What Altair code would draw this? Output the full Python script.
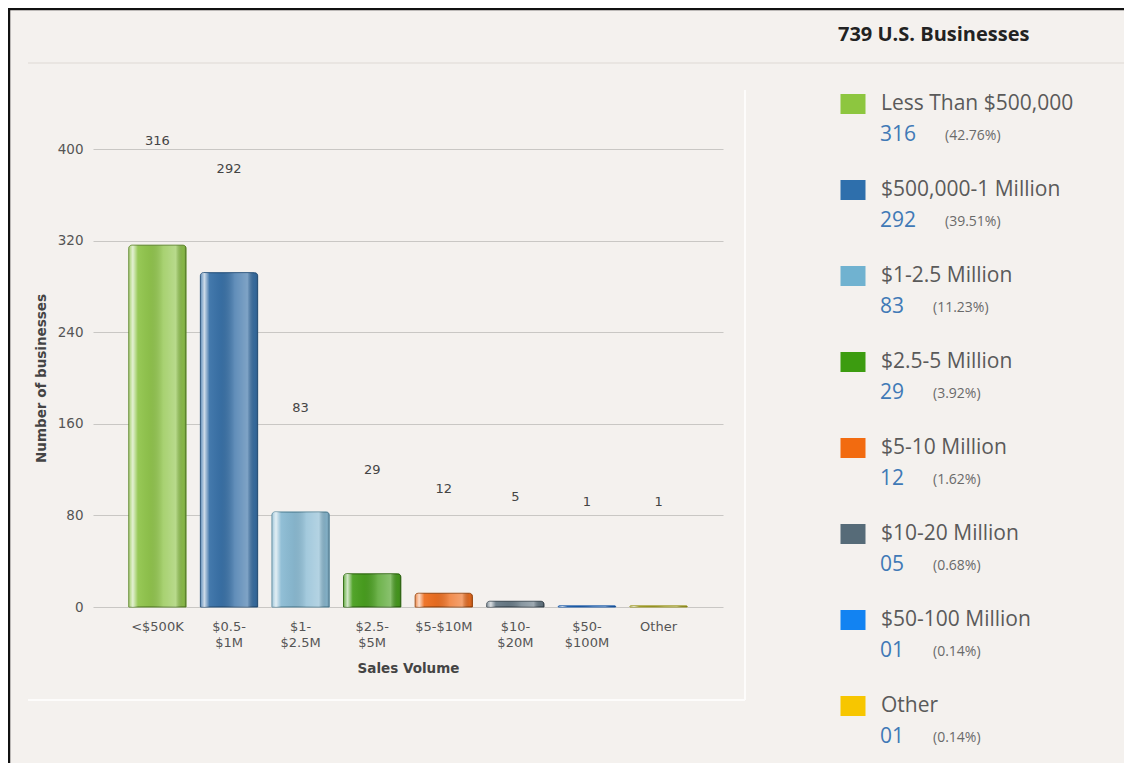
import altair as alt
import pandas as pd

categories = ["<$500K", "$0.5- $1M", "$1- $2.5M", "$2.5- $5M", "$5-$10M", "$10- $20M", "$50- $100M", "Other"]
legend_names = ["Less Than $500,000", "$500,000-1 Million", "$1-2.5 Million", "$2.5-5 Million",
                "$5-10 Million", "$10-20 Million", "$50-100 Million", "Other"]
counts = [316, 292, 83, 29, 12, 5, 1, 1]
bar_colors = ["#92c64e", "#3a72a8", "#8cbcd4", "#4aa020", "#ee7022", "#6a7c88", "#1a6cc8", "#b8b430"]
bar_strokes = ["#5f8a2a", "#27527d", "#5a8aa0", "#2f6a10", "#a04a10", "#3e4c56", "#1a5aa8", "#9a9620"]
swatch_colors = ["#8dc63f", "#2e6fac", "#70b2d0", "#3c9c10", "#f26b10", "#566b78", "#1283f2", "#f7c600"]
y_ticks = [0, 80, 160, 240, 320, 400]

total = sum(counts)
df = pd.DataFrame({
    "cat": categories,
    "name": legend_names,
    "count": counts,
    "idx": list(range(len(categories))),
    "count_label": [f"{c:02d}" for c in counts],
    "pct": [f"({c / total * 100:.2f}%)" for c in counts],
    "nd": [len(f"{c:02d}") for c in counts],
})

BG = "#f4f1ee"
base = alt.Chart(df)

xenc = alt.X("cat:N", sort=categories,
             scale=alt.Scale(domain=categories, paddingInner=0.2, paddingOuter=0.5),
             axis=alt.Axis(title="Sales Volume", labelAngle=0, ticks=False, domain=False,
                           labelExpr="split(datum.label, ' ')", labelLineHeight=16,
                           labelPadding=13, labelFont="DejaVu Sans", labelFontSize=13,
                           labelColor="#555555", titleFont="DejaVu Sans", titleFontSize=13.5,
                           titleFontWeight="bold", titleColor="#444444", titlePadding=12))
yenc = alt.Y("count:Q", scale=alt.Scale(domain=[0, 400], nice=False),
             axis=alt.Axis(title="Number of businesses", values=y_ticks, ticks=False, domain=False,
                           gridColor="#c9c7c4", gridWidth=1, labelPadding=10,
                           labelFont="DejaVu Sans", labelFontSize=13.5, labelColor="#555555",
                           titleFont="DejaVu Sans", titleFontSize=13.5, titleFontWeight="bold",
                           titleColor="#444444", titlePadding=9))

bars = base.mark_bar(cornerRadiusTopLeft=3, cornerRadiusTopRight=3, strokeWidth=1).encode(
    x=xenc, y=yenc,
    fill=alt.Fill("cat:N", scale=alt.Scale(domain=categories, range=bar_colors), legend=None),
    stroke=alt.Stroke("cat:N", scale=alt.Scale(domain=categories, range=bar_strokes), legend=None),
)

gloss_fill = alt.Gradient(
    gradient="linear", x1=0, x2=1, y1=0, y2=0,
    stops=[
        alt.GradientStop(color="rgba(255,255,255,0.2)", offset=0),
        alt.GradientStop(color="rgba(255,255,255,0.75)", offset=0.07),
        alt.GradientStop(color="rgba(255,255,255,0.05)", offset=0.16),
        alt.GradientStop(color="rgba(0,0,0,0.04)", offset=0.35),
        alt.GradientStop(color="rgba(255,255,255,0.2)", offset=0.6),
        alt.GradientStop(color="rgba(255,255,255,0.35)", offset=0.82),
        alt.GradientStop(color="rgba(0,0,0,0.08)", offset=0.95),
        alt.GradientStop(color="rgba(0,0,0,0.18)", offset=1),
    ],
)
gloss = base.mark_bar(cornerRadiusTopLeft=3, cornerRadiusTopRight=3, fill=gloss_fill).encode(
    x=xenc, y=yenc)

labels = base.mark_text(dy=-104, font="DejaVu Sans", fontSize=13, color="#444444",
                        baseline="middle").encode(x=xenc, y=yenc, text="count:Q")

bar_chart = alt.layer(bars, gloss, labels)

# ---- custom legend panel ----
ly = alt.Y("idx:Q", scale=alt.Scale(domain=[0, 7], range=[-45, 557]), axis=None)
swatch = base.mark_point(shape="M-1.25,-1H1.25V1H-1.25Z", filled=True, size=400, opacity=1).encode(
    x=alt.value(760), y=ly,
    fill=alt.Fill("name:N", scale=alt.Scale(domain=legend_names, range=swatch_colors), legend=None),
)
leg_name = base.mark_text(align="left", baseline="middle", font="Open Sans", fontSize=21,
                          color="#5a5a5a").encode(x=alt.value(788), y=ly, text="name:N")
leg_count = base.mark_text(align="left", baseline="middle", dy=31, font="Open Sans", fontSize=21,
                           color="#4079b6").encode(x=alt.value(787), y=ly, text="count_label:N")
leg_pct = base.mark_text(align="left", baseline="middle", dy=32, font="Open Sans", fontSize=14,
                         color="#6a6a6a").encode(
    x=alt.X("nd:Q", scale=alt.Scale(domain=[2, 3], range=[840, 852]), axis=None),
    y=ly, text="pct:N")
leg_title = base.transform_aggregate(total="sum(count)").transform_calculate(
    t="datum.total + ' U.S. Businesses'"
).mark_text(align="left", baseline="middle", font="Open Sans", fontSize=20, fontWeight="bold",
            color="#222222").encode(x=alt.value(745), y=alt.value(-114), text="t:N")

legend_chart = alt.layer(swatch, leg_name, leg_count, leg_pct, leg_title)

# ---- decorative panel edges ----
one = alt.Chart(pd.DataFrame({"k": [0]}))
sep = one.mark_rule(color="#e9e5e1", strokeWidth=2).encode(
    y=alt.value(-86), x=alt.value(-65), x2=alt.value(1040))
edge_r = one.mark_rule(color="#fdfcfb", strokeWidth=2).encode(
    x=alt.value(652), y=alt.value(-59), y2=alt.value(551))
edge_b = one.mark_rule(color="#fdfcfb", strokeWidth=2).encode(
    y=alt.value(551), x=alt.value(-65), x2=alt.value(652))
border_l = one.mark_rule(color="#111111", strokeWidth=2.5).encode(
    x=alt.value(-84), y=alt.value(-141), y2=alt.value(614))
border_t = one.mark_rule(color="#111111", strokeWidth=2.5).encode(
    y=alt.value(-140), x=alt.value(-85), x2=alt.value(1031))
deco = alt.layer(sep, edge_r, edge_b, border_l, border_t)

chart = alt.layer(deco, bar_chart, legend_chart).resolve_scale(
    x="independent", y="independent", fill="independent", stroke="independent"
).properties(
    width=630, height=458,
    autosize=alt.AutoSizeParams(type="none"),
    padding={"left": 85, "top": 141, "right": 401, "bottom": 156},
    background=BG,
).configure_view(stroke=None)

chart.save("out.html", embed_options={"renderer": "svg", "actions": False})
